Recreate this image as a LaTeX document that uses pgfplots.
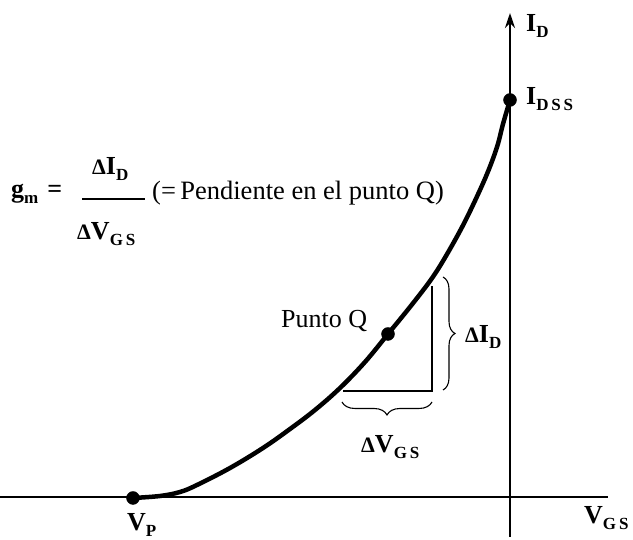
\documentclass[border=0pt]{standalone}
\usepackage{pgfplots}
\pgfplotsset{compat=1.18}
\usepackage{fontspec}
\setmainfont{Liberation Serif}
\usetikzlibrary{arrows.meta,decorations.pathreplacing}
\newcommand\sub[1]{\raisebox{-0.2em}{\fontsize{17}{17}\selectfont\bfseries #1}}
\newcommand\bl[1]{\fontsize{26}{26}\selectfont\bfseries #1}
\newcommand\dl{{\fontsize{22}{22}\selectfont\bfseries Δ}}
\begin{document}
\begin{tikzpicture}
\begin{axis}[name=ax, scale only axis, width=633pt, height=540pt,
  xmin=0, xmax=633, ymin=0, ymax=540, hide axis, clip=false]
% axes
\addplot[black, line width=2.4pt] coordinates {(0,43) (608,43)};
\addplot[black, line width=2.4pt, -{Stealth[length=15pt,width=10pt]}] coordinates {(510,3) (510,527)};
% transfer curve
\addplot[black, line width=4.5pt, smooth, tension=0.6] coordinates {
(133,42) (160,44) (180,48) (197,55) (230,72) (263,92) (290,111) (315,130) (340,152) (365,178) (388,206)
(410,233) (430,259) (443,279) (460,309) (473,335) (487,366) (497,393) (503,416) (510,440)};
% triangle
\addplot[black, line width=2.4pt, line join=miter] coordinates {(343,149) (432,149) (432,254)};
% points
\addplot[only marks, mark=*, mark size=6.5pt, black] coordinates {(133,42) (510,440) (388,206)};
% fraction bar
\addplot[black, line width=2.6pt] coordinates {(82,341) (145,341)};
% braces
\draw[decorate, decoration={brace, amplitude=12pt}, line width=1.1pt] (axis cs:443,263) -- (axis cs:443,150);
\draw[decorate, decoration={brace, amplitude=13pt}, line width=1.1pt] (axis cs:432,138) -- (axis cs:342,138);
% labels
\node[anchor=base west, inner sep=0pt] at (axis cs:526,508) {\bl{I}\sub{D}};
\node[anchor=base west, inner sep=0pt] at (axis cs:526,435) {\bl{I}\sub{D\,S\,S}};
\node[anchor=base west, inner sep=0pt] at (axis cs:127,9) {\bl{V}\sub{P}};
\node[anchor=base west, inner sep=0pt] at (axis cs:584,16) {\bl{V}\sub{G\,S}};
\node[anchor=base west, inner sep=0pt] at (axis cs:281,212) {\fontsize{26}{26}\selectfont Punto Q};
\node[anchor=base west, inner sep=0pt] at (axis cs:465,197) {\dl\bl{I}\sub{D}};
\node[anchor=base west, inner sep=0pt] at (axis cs:361,87) {\dl\bl{V}\sub{G\,S}};
\node[anchor=base west, inner sep=0pt] at (axis cs:92,365) {\dl\bl{I}\sub{D}};
\node[anchor=base west, inner sep=0pt] at (axis cs:77,300) {\dl\bl{V}\sub{G\,S}};
\node[anchor=base west, inner sep=0pt] at (axis cs:11,342) {\bl{g}\sub{m}\hspace{9pt}\bl{=}};
\node[anchor=base west, inner sep=0pt] at (axis cs:152,340) {\fontsize{26.5}{26.5}\selectfont (=\,Pendiente en el punto Q)};
\end{axis}
\pgfresetboundingbox
\useasboundingbox (ax.south west) rectangle (ax.north east);
\end{tikzpicture}
\end{document}
